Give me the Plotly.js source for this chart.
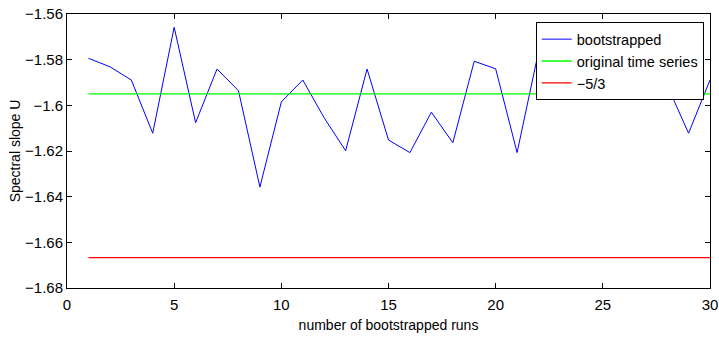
<!DOCTYPE html>
<html>
<head>
<meta charset="utf-8">
<script src="https://cdn.plot.ly/plotly-3.0.1.min.js"></script>
<style>html,body{margin:0;padding:0;background:#fff;}#chart{width:719px;height:344px;}</style>
</head>
<body>
<div id="chart"></div>
<script>
const runs = [1,2,3,4,5,6,7,8,9,10,11,12,13,14,15,16,17,18,19,20,21,22,23,24,25,26,27,28,29,30];
const bootstrapped = [-1.5794,-1.5831,-1.5889,-1.6122,-1.5658,-1.6076,-1.5841,-1.5936,-1.6358,-1.5985,
  -1.5889,-1.6055,-1.6199,-1.5841,-1.6152,-1.6207,-1.6030,-1.6164,-1.5807,-1.5840,
  -1.6207,-1.5765,-1.5840,-1.5740,-1.5860,-1.5790,-1.5720,-1.5912,-1.6122,-1.5889];
const lineX = [1, 30];
const originalSlope = [-1.595, -1.595];
const kolmogorov = [-5/3, -5/3];
const xTickVals = [0,5,10,15,20,25,30];
const xTickText = ['0','5','10','15','20','25','30'];
const yTickVals = [-1.68,-1.66,-1.64,-1.62,-1.6,-1.58,-1.56];
const yTickText = ['\u22121.68','\u22121.66','\u22121.64','\u22121.62','\u22121.6','\u22121.58','\u22121.56'];

const font = 'Liberation Sans, Arial, Helvetica, sans-serif';
const traces = [
  {x: runs, y: bootstrapped, type: 'scatter', mode: 'lines', name: 'bootstrapped', line: {color: '#0000ff', width: 1}},
  {x: lineX, y: originalSlope, type: 'scatter', mode: 'lines', name: 'original time series', line: {color: '#00ff00', width: 1.3}},
  {x: lineX, y: kolmogorov, type: 'scatter', mode: 'lines', name: '\u22125/3', line: {color: '#ff0000', width: 1.3}}
];
const axisCommon = {
  showgrid: false, zeroline: false, showline: true, linecolor: '#000', linewidth: 1,
  mirror: 'ticks', ticks: 'inside', ticklen: 5, tickcolor: '#000', tickwidth: 1,
  tickfont: {family: font, size: 15, color: '#000'}
};
const layout = {
  width: 719, height: 344,
  margin: {l: 67, r: 9, t: 14, b: 56},
  paper_bgcolor: '#fff', plot_bgcolor: '#fff',
  showlegend: true,
  legend: {
    x: 0.729, y: 0.97, xanchor: 'left', yanchor: 'top',
    bgcolor: '#fff', bordercolor: '#000', borderwidth: 1,
    font: {family: font, size: 14.5, color: '#000'},
    tracegroupgap: 0, itemwidth: 30
  },
  xaxis: Object.assign({}, axisCommon, {
    range: [0, 30], tickvals: xTickVals, ticktext: xTickText, ticklabelstandoff: 3,
    title: {text: 'number of bootstrapped runs', font: {family: font, size: 14, color: '#000'}, standoff: 8}
  }),
  yaxis: Object.assign({}, axisCommon, {
    range: [-1.68, -1.56], tickvals: yTickVals, ticktext: yTickText,
    title: {text: 'Spectral slope U', font: {family: font, size: 14, color: '#000'}, standoff: 1}
  })
};
Plotly.newPlot('chart', traces, layout, {displayModeBar: false, staticPlot: true});
</script>
</body>
</html>
